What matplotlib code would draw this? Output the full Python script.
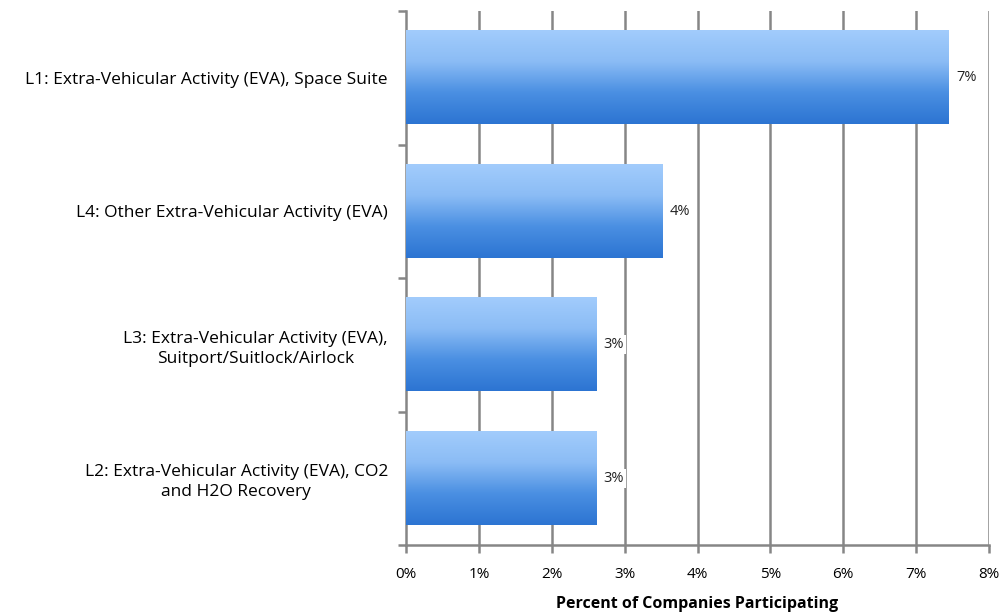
import numpy as np
import matplotlib.pyplot as plt
from matplotlib.colors import LinearSegmentedColormap

plt.rcParams['font.family'] = ['Open Sans', 'DejaVu Sans']

# data (top to bottom as shown)
categories = [
    'L1: Extra-Vehicular Activity (EVA), Space Suite',
    'L4: Other Extra-Vehicular Activity (EVA)',
    'L3: Extra-Vehicular Activity (EVA),\nSuitport/Suitlock/Airlock',
    'L2: Extra-Vehicular Activity (EVA), CO2\nand H2O Recovery',
]
values = [7.45, 3.52, 2.61, 2.61]
value_labels = ['7%', '4%', '3%', '3%']
xticks = [0, 1, 2, 3, 4, 5, 6, 7, 8]

fig = plt.figure(figsize=(10.04, 6.14), dpi=100)
ax = fig.add_axes([406 / 1004, 69 / 614, 583 / 1004, 534 / 614])

n = len(categories)
ypos = np.arange(n)[::-1]

grid_col = '#868686'
for x in xticks[1:]:
    ax.axvline(x, color=grid_col, lw=1.8, zorder=1)

bars = ax.barh(ypos, values, height=0.7, facecolor='none', edgecolor='none', zorder=2)

# vertical gradient for each bar
cmap = LinearSegmentedColormap.from_list('grad', ['#a2ccfc', '#8bbcf5', '#4a8fe2', '#2c74d2'])
grad = np.linspace(0, 1, 256).reshape(-1, 1)
for b in bars:
    x0, y0 = b.get_x(), b.get_y()
    w, h = b.get_width(), b.get_height()
    ax.imshow(grad, extent=[x0, x0 + w, y0, y0 + h], origin='upper',
              cmap=cmap, aspect='auto', zorder=3, interpolation='bicubic')

for y, v, lab in zip(ypos, values, value_labels):
    ax.text(v + 0.1, y, lab, va='center', ha='left', fontsize=10.5, color='#222222',
            bbox=dict(facecolor='white', edgecolor='none', pad=1.5), zorder=4)

ax.set_xlim(0, 8)
ax.set_ylim(-0.5, n - 0.5)
ax.set_xticks(xticks)
ax.set_xticklabels([f'{t}%' for t in xticks], fontsize=11)
ax.set_yticks(ypos)
ax.set_yticklabels(categories, fontsize=12.5, ha='right', multialignment='center',
                   linespacing=1.35)
ax.tick_params(axis='y', length=0, pad=13)
ax.set_yticks(np.arange(n + 1) - 0.5, minor=True)
ax.tick_params(axis='y', which='minor', length=6, width=1.8, color=grid_col, direction='out')
ax.tick_params(axis='x', length=6, width=1.8, color=grid_col, direction='out', pad=10)

for s in ['top', 'right']:
    ax.spines[s].set_visible(False)
for s in ['left', 'bottom']:
    ax.spines[s].set_color(grid_col)
    ax.spines[s].set_linewidth(1.8)

ax.set_xlabel('Percent of Companies Participating', fontsize=11.5, fontweight='bold',
              labelpad=10)

fig.savefig('out.png', dpi=100)
